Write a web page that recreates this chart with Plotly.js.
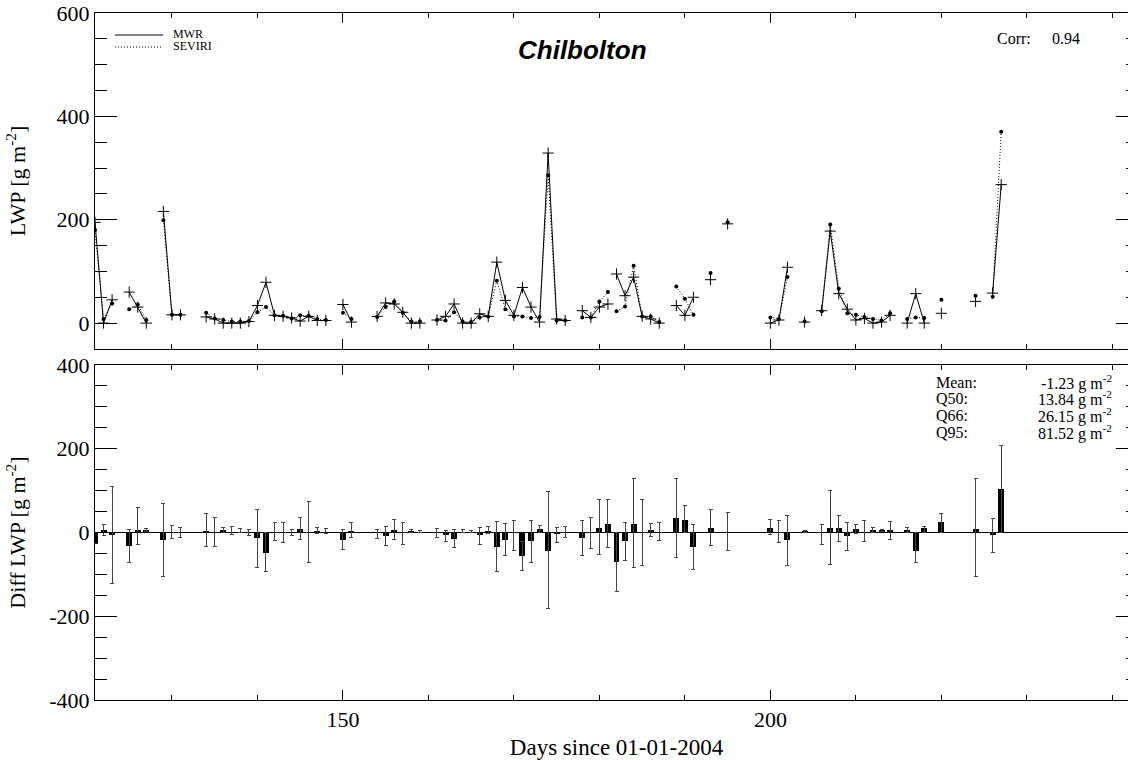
<!DOCTYPE html>
<html><head><meta charset="utf-8">
<script src="https://cdn.plot.ly/plotly-3.0.1.min.js"></script>
<style>html,body{margin:0;padding:0;overflow:hidden;background:#fff}#chart{width:1139px;height:760px}</style>
</head><body><div id="chart"></div>
<script>
// Day of year (null rows separate the line segments)
const days = [121,122,123,124,125,126,127,128,129,130,131,132,
  134,135,136,137,138,139,140,141,142,143,144,145,146,147,148,149,
  150,151,152,154,155,156,157,158,159,160,
  161,162,163,164,165,166,167,168,169,170,171,172,173,174,175,176,177,
  178,179,180,181,181.5,182,183,184,185,186,187,188,
  189,190,191,192,193,194,195,196,200,201,202,203,204,205,
  206,207,208,209,210,211,212,213,214,215,216,217,218,219,220,222,224,225,226,227];
// MWR liquid water path [g m-2]
const mwr = [195,0,45,null,60,31,0,null,216,16,16,null,
  12,8,0,0,0,3,34,79,15,13,10,4,13,5,5,null,
  36,2,null,13,39,37,21,0,0,null,
  6,13,37,0,0,18,13,118,44,15,69,31,2,329,8,5,null,
  24,11,31,37,null,95,53,89,13,8,0,null,
  34,15,50,null,84,null,192,null,0,6,108,null,2,null,
  24,178,57,27,6,9,0,2,15,null,0,57,0,null,19,null,42,null,58,268];
// SEVIRI liquid water path [g m-2]
const seviri = [180,8,38,null,27,36,6,null,199,16,16,null,
  20,9,6,3,3,4,21,31,15,14,9,15,14,8,6,null,
  20,8,null,12,31,42,20,3,3,null,
  6,5,21,3,2,11,13,82,27,13,13,10,12,286,5,5,null,
  11,11,42,60,null,23,32,111,13,13,2,null,
  71,47,16,null,97,null,195,null,11,8,89,null,3,null,
  23,191,67,19,16,12,8,5,19,null,8,11,10,null,45,null,53,null,51,370];
// Difference SEVIRI - MWR [g m-2]
const diffLWP = [-27,5,-6,null,-33,5,6,null,-18,0,0,null,
  4,0,5,2,2,0,-14,-50,0,0,0,9,0,3,0,null,
  -17,4,null,-2,-9,7,0,3,2,null,
  0,-7,-15,2,2,-7,3,-35,-18,-2,-56,-21,9,-43,-3,0,null,
  -13,0,11,21,null,-71,-21,21,0,5,0,null,
  35,31,-35,null,11,null,1,null,11,2,-18,null,3,null,
  -2,11,10,-9,9,2,7,5,5,null,6,-45,11,null,25,null,9,null,-6,104];
// Upper and lower ends of the spread whiskers [g m-2]
const diffTop = [-27,19,110,null,7,60,10,null,69,17,11,null,
  45,37,13,15,10,8,56,0,25,25,7,37,75,13,10,null,
  7,23,null,7,14,31,23,8,5,null,
  9,5,7,7,5,13,15,27,21,29,-22,29,17,97,13,15,null,
  29,37,79,80,null,0,25,130,79,21,24,null,
  130,64,19,null,56,null,47,null,31,29,41,null,5,null,
  19,100,40,24,19,29,12,8,27,null,11,0,14,null,45,null,128,null,33,208];
const diffBottom = [-27,-7,-121,null,-72,-29,3,null,-104,-14,-13,null,
  -34,-33,0,-5,0,-7,-84,-94,-19,-25,-7,-17,-71,-3,-3,null,
  -40,-13,null,-15,-31,-17,-29,0,0,null,
  -11,-21,-36,0,0,-29,-3,-94,-56,-42,-90,-71,0,-182,-23,-13,null,
  -56,-38,-52,-36,null,-140,-68,-84,-79,-9,-19,null,
  -59,0,-88,null,-31,null,-42,null,-5,-23,-79,null,0,null,
  -29,-76,-21,-42,-2,-21,0,2,-17,null,0,-71,0,null,0,null,-104,null,-48,0];

const lwpTickVals = [0,200,400,600];
const lwpTickText = ['0','200','400','600'];
const diffTickVals = [-400,-200,0,200,400];
const diffTickText = ['-400','-200','0','200','400'];
const dayTickVals = [150,200];
const dayTickText = ['150','200'];

const errPlus = diffLWP.map((d,i)=> d===null ? 0 : Math.max(0, diffTop[i]-d));
const errMinus = diffLWP.map((d,i)=> d===null ? 0 : Math.max(0, d-diffBottom[i]));

function range(a,b,s){const r=[];for(let v=a;v<=b+1e-9;v+=s)r.push(v);return r;}

const serif = 'Liberation Serif, Times New Roman, serif';
const tickFont = {family: serif, size: 22, color: '#000'};

const traces = [
  {x: days, y: mwr, type: 'scatter', mode: 'lines+markers', name: 'MWR',
   line: {color: '#000', width: 1}, connectgaps: false,
   marker: {symbol: 'cross-thin-open', size: 8, line: {color: '#000', width: 1}, color: '#000'},
   xaxis: 'x', yaxis: 'y', cliponaxis: true},
  {x: days, y: seviri, type: 'scatter', mode: 'lines+markers', name: 'SEVIRI',
   line: {color: '#000', width: 1, dash: '1px,2px'}, connectgaps: false,
   marker: {symbol: 'circle', size: 4, color: '#000'},
   xaxis: 'x', yaxis: 'y', cliponaxis: true},
  {x: days, y: diffLWP, type: 'bar', name: 'Diff', width: 0.7,
   marker: {color: '#000', line: {width: 0}},
   error_y: {type: 'data', symmetric: false, array: errPlus, arrayminus: errMinus,
             color: '#444', thickness: 1, width: 2},
   xaxis: 'x2', yaxis: 'y2'}
];

function yAxis(domain, rng, tv, tt, title, standoff, minorStep, anchor){
  return {domain: domain, range: rng, anchor: anchor,
    tickmode: 'array', tickvals: tv, ticktext: tt,
    ticks: 'inside', ticklen: 22, tickwidth: 1, tickcolor: '#000',
    minor: {ticks: 'inside', ticklen: 12, tickwidth: 1, tickcolor: '#000', tickmode: 'array',
            tickvals: range(rng[0], rng[1], minorStep)},
    showline: true, linecolor: '#000', linewidth: 1, mirror: 'allticks',
    showgrid: false, zeroline: false, tickfont: tickFont, automargin: false,
    title: {text: title, font: {family: serif, size: 22, color: '#000'}, standoff: standoff}};
}

const xCommon = {range: [121, 243], tickmode: 'array', tickvals: dayTickVals, ticktext: dayTickText,
  ticks: 'inside', ticklen: 10, tickwidth: 1, tickcolor: '#000',
  minor: {ticks: 'inside', ticklen: 5, tickwidth: 1, tickcolor: '#000', tickmode: 'array',
          tickvals: range(130, 240, 10)},
  showline: true, linecolor: '#000', linewidth: 1, mirror: 'allticks',
  showgrid: false, zeroline: false, tickfont: tickFont, automargin: false};

const ann = (text, xpx, ypx, size, anchor, extra) => Object.assign({
  text: text, xref: 'paper', yref: 'paper',
  x: (xpx - 95) / 1043, y: (700 - ypx) / 687,
  xanchor: anchor, yanchor: 'middle', showarrow: false,
  font: {family: serif, size: size, color: '#000'}}, extra || {});

const layout = {
  width: 1139, height: 760,
  margin: {l: 95, r: 1, t: 13, b: 60},
  paper_bgcolor: '#fff', plot_bgcolor: '#fff',
  showlegend: false, bargap: 0,
  xaxis: Object.assign({}, xCommon, {anchor: 'y', showticklabels: false}),
  xaxis2: Object.assign({}, xCommon, {anchor: 'y2',
    title: {text: 'Days since 01-01-2004', font: {family: serif, size: 23, color: '#000'}, standoff: 8}}),
  yaxis: yAxis([0.511, 1], [-50, 600], lwpTickVals, lwpTickText, 'LWP [g m<sup>-2</sup>]', 24, 50, 'x'),
  yaxis2: yAxis([0, 0.4876], [-400, 400], diffTickVals, diffTickText, 'Diff LWP [g m<sup>-2</sup>]', 17, 50, 'x2'),
  shapes: [
    {type: 'line', xref: 'paper', yref: 'paper', x0: (115-95)/1043, x1: (163-95)/1043,
     y0: (700-35)/687, y1: (700-35)/687, line: {color: '#000', width: 1}},
    {type: 'line', xref: 'paper', yref: 'paper', x0: (115-95)/1043, x1: (163-95)/1043,
     y0: (700-47)/687, y1: (700-47)/687, line: {color: '#000', width: 1, dash: '1px,2px'}}
  ],
  annotations: [
    ann('MWR', 171, 34, 12, 'left'),
    ann('SEVIRI', 171, 46, 12, 'left'),
    ann('<b><i>Chilbolton</i></b>', 582, 50, 26, 'center',
        {font: {family: 'Liberation Sans, Arial, sans-serif', size: 26, color: '#000'}}),
    ann('Corr:', 995, 38, 16, 'left'),
    ann('0.94', 1082, 38, 16, 'right'),
    ann('Mean:', 934, 382, 16, 'left'),
    ann('Q50:', 934, 398, 16, 'left'),
    ann('Q66:', 934, 415, 16, 'left'),
    ann('Q95:', 934, 432, 16, 'left'),
    ann('-1.23 g m<sup>-2</sup>', 1114, 382, 16, 'right'),
    ann('13.84 g m<sup>-2</sup>', 1114, 398, 16, 'right'),
    ann('26.15 g m<sup>-2</sup>', 1114, 415, 16, 'right'),
    ann('81.52 g m<sup>-2</sup>', 1114, 432, 16, 'right')
  ]
};

layout.yaxis2.zeroline = true;
layout.yaxis2.zerolinecolor = '#000';
layout.yaxis2.zerolinewidth = 1;

Plotly.newPlot('chart', traces, layout, {displayModeBar: false, staticPlot: true});
</script>
</body></html>
